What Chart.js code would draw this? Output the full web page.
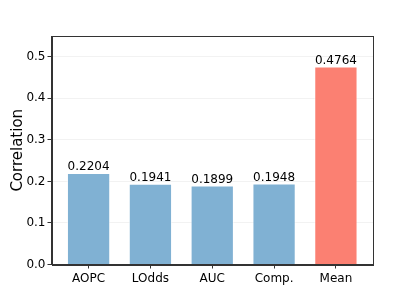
<!DOCTYPE html>
<html>
<head>
<meta charset="utf-8">
<script src="https://cdn.jsdelivr.net/npm/chart.js@4"></script>
<style>
  html, body { margin: 0; padding: 0; background: #fff; }
  #c { display: block; }
</style>
</head>
<body>
<canvas id="c" width="415" height="297" style="width:415px;height:297px"></canvas>
<script>
const categories = ["AOPC", "LOdds", "AUC", "Comp.", "Mean"];
const values = [0.2204, 0.1941, 0.1899, 0.1948, 0.4764];
const yTicks = [0.0, 0.1, 0.2, 0.3, 0.4, 0.5];
const barColors = ["#80b1d3", "#80b1d3", "#80b1d3", "#80b1d3", "#fb8072"];
const yTitle = "Correlation";

const FONT = "'DejaVu Sans', sans-serif";

const framePlugin = {
  id: 'frame',
  afterDatasetsDraw(chart) {
    const ctx = chart.ctx;
    const a = chart.chartArea;
    const meta = chart.getDatasetMeta(0);
    ctx.save();
    ctx.font = "12px " + FONT;
    ctx.fillStyle = "#000";
    ctx.textAlign = "center";
    ctx.textBaseline = "alphabetic";
    meta.data.forEach((el, i) => {
      ctx.fillText(values[i].toFixed(4), el.x, el.y - 2.5);
    });
    ctx.strokeStyle = "#333";
    ctx.lineWidth = 1;
    ctx.strokeRect(Math.round(a.left) + 0.5, Math.round(a.top) + 0.5,
                   Math.round(a.right) - Math.round(a.left), Math.round(a.bottom) - Math.round(a.top));
    ctx.restore();
  }
};

new Chart(document.getElementById('c'), {
  type: 'bar',
  data: {
    datasets: [{
      data: values.map((v, i) => ({ x: i, y: v })),
      backgroundColor: barColors,
      borderColor: "rgba(255,255,255,0.5)",
      borderWidth: 1,
      barPercentage: 0.7,
      categoryPercentage: 1.0
    }]
  },
  options: {
    responsive: false,
    animation: false,
    layout: { padding: { top: 36, right: 42, bottom: 0, left: 0 } },
    plugins: { legend: { display: false }, tooltip: { enabled: false } },
    scales: {
      x: {
        type: 'linear',
        offset: false,
        min: -0.6,
        max: 4.6,
        afterBuildTicks: s => { s.ticks = categories.map((_, i) => ({ value: i })); },
        afterFit: s => { s.height = 32.5; },
        ticks: {
          autoSkip: false,
          maxRotation: 0,
          padding: 3,
          color: "#000",
          font: { family: FONT, size: 12 },
          callback: v => categories[v]
        },
        grid: { display: true, offset: false, drawOnChartArea: false, drawTicks: true, tickLength: 4, tickColor: "#333" },
        border: { display: true, color: "#333" }
      },
      y: {
        type: 'linear',
        min: 0,
        max: 0.55,
        afterBuildTicks: s => { s.ticks = yTicks.map(v => ({ value: v })); },
        afterFit: s => { s.width = 51.5; },
        ticks: {
          padding: 2,
          color: "#000",
          font: { family: FONT, size: 12 },
          callback: v => Number(v).toFixed(1)
        },
        grid: { display: true, drawOnChartArea: true, drawTicks: true, tickLength: 4,
                color: "rgba(0,0,0,0.05)", tickColor: "#333" },
        border: { display: true, color: "#333" },
        title: {
          display: true,
          text: yTitle,
          color: "#000",
          font: { family: FONT, size: 15 },
          padding: { top: 9, bottom: 0 }
        }
      }
    }
  },
  plugins: [framePlugin]
});
</script>
</body>
</html>
